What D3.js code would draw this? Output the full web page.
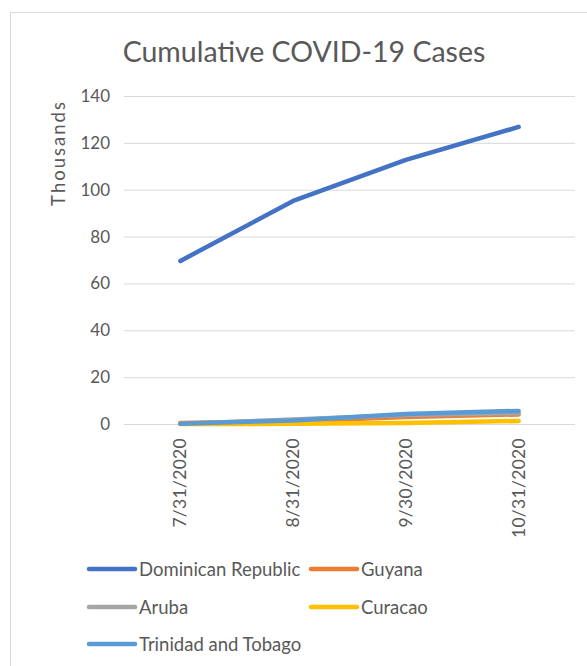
<!DOCTYPE html>
<html>
<head>
<meta charset="utf-8">
<script src="https://cdnjs.cloudflare.com/ajax/libs/d3/7.8.5/d3.min.js"></script>
<style>
  body { margin: 0; background: #fff; }
  text { font-family: Lato, "Open Sans", sans-serif; fill: #595959; }
</style>
</head>
<body>
<svg id="chart" width="587" height="666"></svg>
<script>
// dates on the category axis
var dates = ["7/31/2020", "8/31/2020", "9/30/2020", "10/31/2020"];

// cumulative cases, thousands
var dominican = [69.6, 95.2, 112.7, 126.8];
var guyana    = [0.4, 1.2, 3.0, 4.1];
var aruba     = [0.13, 1.9, 3.8, 4.6];
var curacao   = [0.03, 0.06, 0.4, 1.3];
var trinidad  = [0.15, 1.5, 4.3, 5.6];

var seriesNames  = ["Dominican Republic", "Guyana", "Aruba", "Curacao", "Trinidad and Tobago"];
var seriesValues = [dominican, guyana, aruba, curacao, trinidad];
var seriesColors = ["#4472C4", "#ED7D31", "#A5A5A5", "#FFC000", "#5B9BD5"];

var yTicks = [0, 20, 40, 60, 80, 100, 120, 140];

var svg = d3.select("#chart");

// outer chart border
svg.append("rect")
   .attr("x", 10.5).attr("y", 12.5)
   .attr("width", 600).attr("height", 700)
   .attr("fill", "none")
   .attr("stroke", "#D9D9D9");

var plotL = 124, plotR = 575, plotT = 96, plotB = 424;

var x = d3.scaleBand().domain(dates).range([plotL, plotR]);
var y = d3.scaleLinear().domain([0, 140]).range([plotB, plotT]);

// gridlines
svg.append("g").selectAll("line")
   .data(yTicks)
   .enter().append("line")
   .attr("x1", plotL).attr("x2", plotR)
   .attr("y1", function(d){ return y(d) + 0.5; })
   .attr("y2", function(d){ return y(d) + 0.5; })
   .attr("stroke", "#D9D9D9")
   .attr("stroke-width", 1);

// y axis labels
var yAxis = d3.axisLeft(y).tickValues(yTicks).tickSize(0).tickPadding(14);
var gy = svg.append("g").attr("transform", "translate(" + plotL + ",0)").call(yAxis);
gy.select(".domain").remove();
gy.selectAll("text")
  .style("font-family", "Lato, 'Open Sans', sans-serif")
  .style("font-size", "17px")
  .attr("fill", "#595959");

// x axis labels, rotated
var xAxis = d3.axisBottom(x).tickSize(0).tickPadding(0);
var gx = svg.append("g").attr("transform", "translate(0," + plotB + ")").call(xAxis);
gx.select(".domain").remove();
gx.selectAll("text")
  .style("font-family", "Lato, 'Open Sans', sans-serif")
  .style("font-size", "17.5px")
  .style("letter-spacing", "0.3px")
  .attr("fill", "#595959")
  .attr("text-anchor", "end")
  .attr("transform", "translate(6,14) rotate(-90)")
  .attr("dy", "0")
  .attr("y", 0);

// lines
var line = d3.line()
  .x(function(d, i){ return x(dates[i]) + x.bandwidth() / 2; })
  .y(function(d){ return y(d); });

svg.append("g").selectAll("path")
   .data(seriesValues)
   .enter().append("path")
   .attr("d", line)
   .attr("fill", "none")
   .attr("stroke", function(d, i){ return seriesColors[i]; })
   .attr("stroke-width", 4.5)
   .attr("stroke-linecap", "round")
   .attr("stroke-linejoin", "round");

// title
svg.append("text")
   .attr("x", 304).attr("y", 62)
   .attr("text-anchor", "middle")
   .style("font-size", "28.5px")
   .text("Cumulative COVID-19 Cases");

// y axis title
svg.append("text")
   .attr("transform", "translate(65,153) rotate(-90)")
   .attr("text-anchor", "middle")
   .style("font-size", "18.5px")
   .style("letter-spacing", "2px")
   .text("Thousands");

// legend
var legendPos = [[89, 569], [311, 569], [89, 607], [311, 607], [89, 644]];
var lg = svg.append("g").selectAll("g")
   .data(seriesNames)
   .enter().append("g")
   .attr("transform", function(d, i){ return "translate(" + legendPos[i][0] + "," + legendPos[i][1] + ")"; });
lg.append("line")
  .attr("x1", 0).attr("x2", 46)
  .attr("stroke", function(d, i){ return seriesColors[i]; })
  .attr("stroke-width", 4.5)
  .attr("stroke-linecap", "round");
lg.append("text")
  .attr("x", 50).attr("y", 6.5)
  .style("font-size", "18.5px")
  .text(function(d){ return d; });
</script>
</body>
</html>
